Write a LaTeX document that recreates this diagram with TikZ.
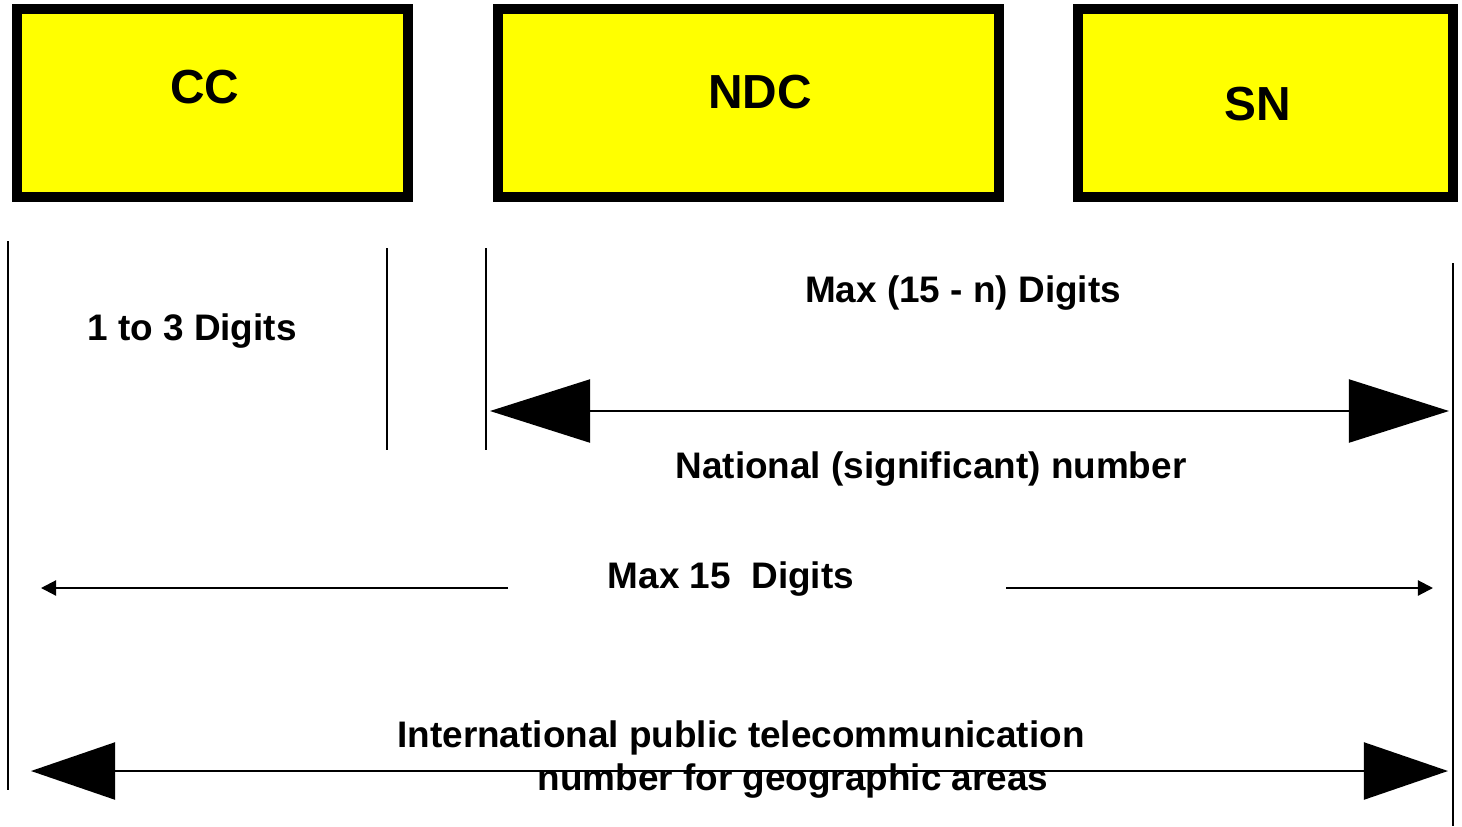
\documentclass[tikz,border=0pt]{standalone}
\usepackage{fontspec}
\setmainfont{Liberation Sans}
\usetikzlibrary{arrows.meta, positioning}
\definecolor{boxyellow}{RGB}{255,255,0}

\begin{document}
\begin{tikzpicture}[x=0.01cm,y=-0.01cm,
    numbox/.style={draw=black,line width=2.8pt,fill=boxyellow,minimum height=1.88cm,inner sep=0pt},
    boxtext/.style={anchor=base,font=\fontsize{13.6}{16}\selectfont\bfseries},
    lbl/.style={anchor=base,font=\fontsize{10.5}{12.6}\selectfont\bfseries,inner sep=0pt},
    tick/.style={line width=0.6pt},
    bigarrow/.style={line width=0.6pt,{Triangle[length=1cm,width=0.63cm]}-{Triangle[length=1cm,width=0.63cm]}},
    intarrow/.style={line width=0.6pt,{Triangle[length=0.84cm,width=0.57cm]}-{Triangle[length=0.84cm,width=0.57cm]}},
    smallarrow/.style={line width=0.6pt,-{Triangle[length=0.15cm,width=0.15cm]}}]
    \useasboundingbox (0,0) rectangle (1462,826);

    % Number parts
    \node[numbox,minimum width=3.91cm] (CC) at (212.5,103) {};
    \node[numbox,minimum width=5.01cm] (NDC) at (748.5,103) {};
    \node[numbox,minimum width=3.75cm] (SN) at (1265.5,103) {};
    \node[boxtext] (ccl) at (205,103) {CC};
    \node[boxtext] (ndcl) at (760,108) {NDC};
    \node[boxtext] (snl) at (1258,120) {SN};

    % Limit lines
    \coordinate (v1t) at (8,241);
    \coordinate (v1b) at (8,790);
    \coordinate (v2t) at (387,248);
    \coordinate (v2b) at (387,450);
    \coordinate (v3t) at (486,248);
    \coordinate (v3b) at (486,450);
    \coordinate (v4t) at (1453,263);
    \coordinate (v4b) at (1453,826);
    \draw[tick] (v1t) -- (v1b);
    \draw[tick] (v2t) -- (v2b);
    \draw[tick] (v3t) -- (v3b);
    \draw[tick] (v4t) -- (v4b);

    % Labels
    \node[lbl] (cclen) at (192,340) {1 to 3 Digits};
    \node[lbl] (nsnlen) at (963,302) {Max (15 - n) Digits};
    \node[lbl] (nsn) at (931,478) {National (significant) number};
    \node[lbl] (maxlen) at (731,588) {Max 15\ \ Digits};
    \node[lbl] (intl1) at (741,747) {International public telecommunication};
    \node[lbl] (intl2) at (793,790) {number for geographic areas};

    % National (significant) number
    \coordinate (natL) at (490,411);
    \coordinate (natR) at (1449,411);
    \draw[bigarrow] (natL) -- (natR);

    % Max 15 digits
    \coordinate (maxL) at (41,588);
    \coordinate (maxLs) at (508,588);
    \coordinate (maxRs) at (1006,588);
    \coordinate (maxR) at (1433,588);
    \draw[smallarrow] (maxLs) -- (maxL);
    \draw[smallarrow] (maxRs) -- (maxR);

    % International number
    \coordinate (intL) at (31,771);
    \coordinate (intR) at (1448,771);
    \draw[intarrow] (intL) -- (intR);
\end{tikzpicture}
\end{document}
